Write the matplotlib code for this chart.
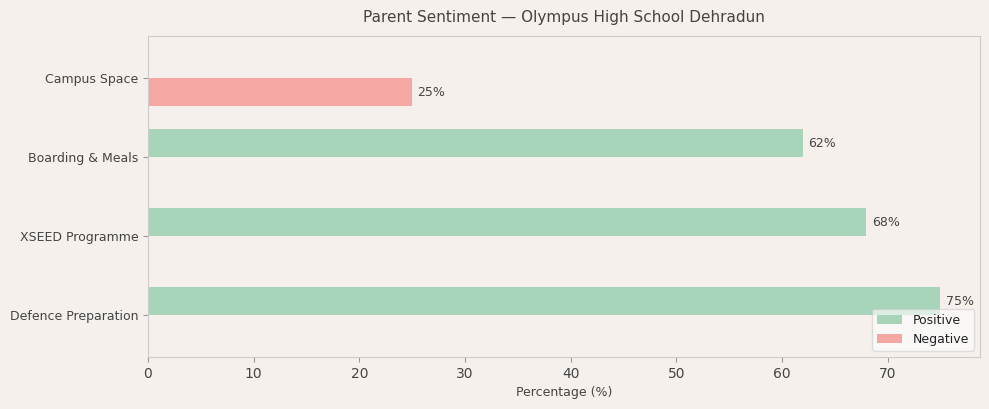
import numpy as np
import matplotlib.pyplot as plt

# datos
categories = ["Defence Preparation", "XSEED Programme", "Boarding & Meals", "Campus Space"]
positive = [75, 68, 62, 0]
negative = [0, 0, 0, 25]

bg = "#f5f0ec"
txt = "#444444"

fig, ax = plt.subplots(figsize=(9.89, 4.09), dpi=100)
fig.patch.set_facecolor(bg)
ax.set_facecolor(bg)
fig.subplots_adjust(left=0.1496, right=0.9909, top=0.912, bottom=0.127)

y = np.arange(len(categories))
h = 0.35
b1 = ax.barh(y + h / 2, positive, height=h, color="#a8d5ba", label="Positive")
b2 = ax.barh(y - h / 2, negative, height=h, color="#f5a7a3", label="Negative")

# etiquetas solo para barras con valor
for bars, vals in [(b1, positive), (b2, negative)]:
    for bar, v in zip(bars, vals):
        if v > 0:
            ax.text(bar.get_width() + 0.5, bar.get_y() + bar.get_height() / 2,
                    f"{v}%", va="center", ha="left", fontsize=9, color=txt)

ax.set_yticks(y)
ax.set_yticklabels(categories, fontsize=9, color=txt)
ax.tick_params(axis="x", labelsize=10, colors=txt)
ax.tick_params(axis="y", colors=txt)
ax.tick_params(color="#999999")

ax.set_xlabel("Percentage (%)", fontsize=9, color=txt)
ax.set_title("Parent Sentiment — Olympus High School Dehradun", fontsize=11, color=txt, pad=10)

for s in ax.spines.values():
    s.set_color("#cccccc")

leg = ax.legend(loc="lower right", fontsize=9, framealpha=0.6)
for t in leg.get_texts():
    t.set_color("#222222")

fig.savefig("out.png", dpi=100, facecolor=bg)
